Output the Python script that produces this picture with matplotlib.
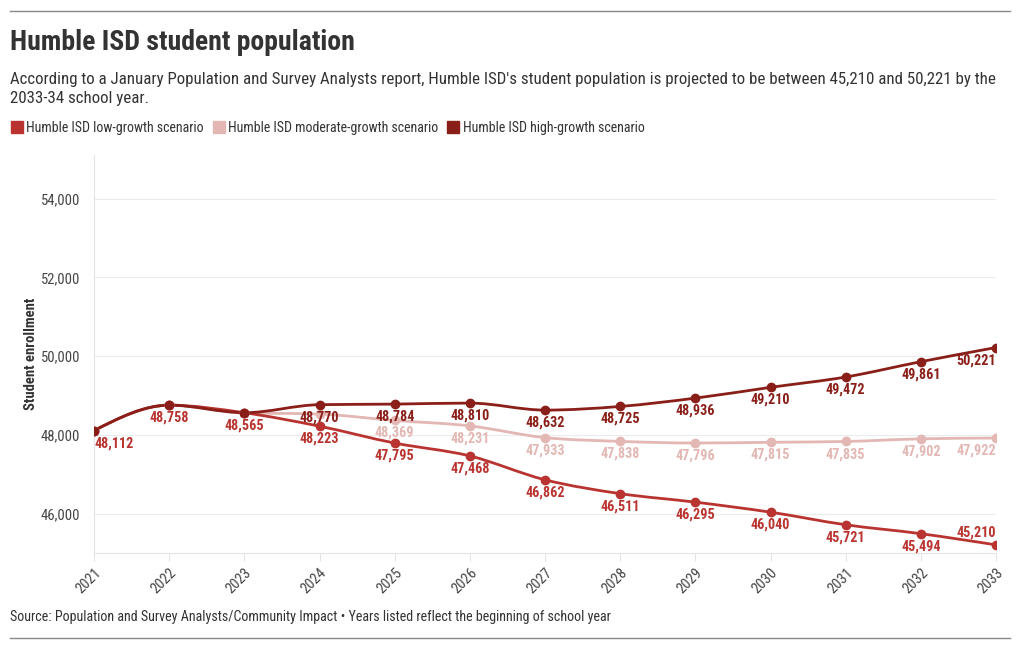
import matplotlib
matplotlib.use("Agg")
import matplotlib.pyplot as plt
import numpy as np
from matplotlib.path import Path
from matplotlib.patches import PathPatch
from matplotlib.lines import Line2D
from matplotlib.ticker import FuncFormatter

plt.rcParams['font.family'] = ['Roboto Condensed', 'Liberation Sans Narrow', 'Roboto', 'DejaVu Sans']

#======================================================
years = [2021, 2022, 2023, 2024, 2025, 2026, 2027, 2028, 2029, 2030, 2031, 2032, 2033]
low = [48112, 48758, 48565, 48223, 47795, 47468, 46862, 46511, 46295, 46040, 45721, 45494, 45210]
moderate = [48112, 48758, 48565, 48530, 48369, 48231, 47933, 47838, 47796, 47815, 47835, 47902, 47922]
high = [48112, 48758, 48565, 48770, 48784, 48810, 48632, 48725, 48936, 49210, 49472, 49861, 50221]
names = ['Humble ISD low-growth scenario', 'Humble ISD moderate-growth scenario',
         'Humble ISD high-growth scenario']
colors = ['#b93430', '#e3b7b3', '#8a1f19']
yticks = [46000, 48000, 50000, 52000, 54000]

#======================================================
def monotone_path(x, y):
    # d3 curveMonotoneX as cubic bezier segments
    x = np.asarray(x, float)
    y = np.asarray(y, float)
    n = len(x)
    h = np.diff(x)
    s = np.diff(y) / h
    t = np.zeros(n)
    for i in range(1, n - 1):
        p = (s[i-1]*h[i] + s[i]*h[i-1]) / (h[i-1] + h[i])
        t[i] = (np.sign(s[i-1]) + np.sign(s[i])) * min(abs(s[i-1]), abs(s[i]), 0.5*abs(p))
    t[0] = (3*s[0] - t[1]) / 2
    t[-1] = (3*s[-1] - t[-2]) / 2
    verts = [(x[0], y[0])]
    codes = [Path.MOVETO]
    for i in range(n - 1):
        dx = h[i] / 3
        verts += [(x[i]+dx, y[i]+dx*t[i]), (x[i+1]-dx, y[i+1]-dx*t[i+1]), (x[i+1], y[i+1])]
        codes += [Path.CURVE4]*3
    return Path(verts, codes)

fig = plt.figure(figsize=(10.2, 6.5), dpi=100)
ax = fig.add_axes([0.0922, 0.149, 0.8843, 0.612])

for vals, c in zip([moderate, low, high], [colors[1], colors[0], colors[2]]):
    ax.add_patch(PathPatch(monotone_path(years, vals), fill=False, edgecolor=c, lw=2.0,
                           capstyle='round', joinstyle='round', zorder=3))
    ax.plot(years, vals, 'o', color=c, ms=6, zorder=4)

# data labels
def lab(x, y, txt, c, ha='center', above=False):
    ax.annotate(txt, (x, y), xytext=(0, 4 if above else -4), textcoords='offset points',
                ha=ha, va='bottom' if above else 'top', fontsize=10.2, fontweight='bold',
                color=c, zorder=5)

for i, yr in enumerate(years):
    ha = 'left' if i == 0 else ('right' if i == len(years)-1 else 'center')
    lab(yr, low[i], '{:,}'.format(low[i]), colors[0], ha, above=(i == len(years)-1))
    if i >= 4:
        lab(yr, moderate[i], '{:,}'.format(moderate[i]), colors[1], ha)
    if i >= 3:
        lab(yr, high[i], '{:,}'.format(high[i]), colors[2], ha)

ax.set_xlim(2021, 2033)
ax.set_ylim(45000, 55100)
ax.set_yticks(yticks)
ax.yaxis.set_major_formatter(FuncFormatter(lambda v, p: '{:,.0f}'.format(v)))
ax.set_xticks(years)
ax.set_xticklabels([str(y) for y in years], rotation=45, ha='right', rotation_mode='anchor')
ax.grid(axis='y', color='#ececec', lw=0.8)
for sp in ['top', 'right']:
    ax.spines[sp].set_visible(False)
for sp in ['left', 'bottom']:
    ax.spines[sp].set_color('#e4e4e4')
    ax.spines[sp].set_linewidth(0.8)
ax.tick_params(axis='y', length=0, pad=10, labelsize=10.5, labelcolor='#444444')
ax.tick_params(axis='x', length=6, color='#e4e4e4', pad=3, labelsize=10.5, labelcolor='#444444')
ax.set_ylabel('Student enrollment', fontsize=10.5, fontweight='bold', color='#333333', labelpad=2)

# titles, legend, footer
fig.text(0.0098, 0.935, 'Humble ISD student population', fontsize=20, fontweight='bold',
         color='#333333', va='center')
fig.text(0.0098, 0.889, "According to a January Population and Survey Analysts report, Humble ISD's student "
         "population is projected to be between 45,210 and 50,221 by the\n2033-34 school year.",
         fontsize=12.2, color='#333333', va='top', linespacing=1.32)
handles = [Line2D([], [], marker='s', ls='', ms=8, color=c) for c in colors]
fig.legend(handles, names, loc='center left', bbox_to_anchor=(0.001, 0.803), ncol=3,
           frameon=False, fontsize=10, handlelength=0.5, handletextpad=0.4,
           columnspacing=0.85, labelcolor='#333333')
fig.text(0.0098, 0.05, 'Source: Population and Survey Analysts/Community Impact \u2022 Years listed '
         'reflect the beginning of school year', fontsize=10.1, color='#333333', va='center')
fig.add_artist(Line2D([0.0098, 0.990], [0.983, 0.983], color='#888888', lw=1))
fig.add_artist(Line2D([0.0098, 0.990], [0.018, 0.018], color='#888888', lw=1))

fig.savefig('out.png', dpi=100)
